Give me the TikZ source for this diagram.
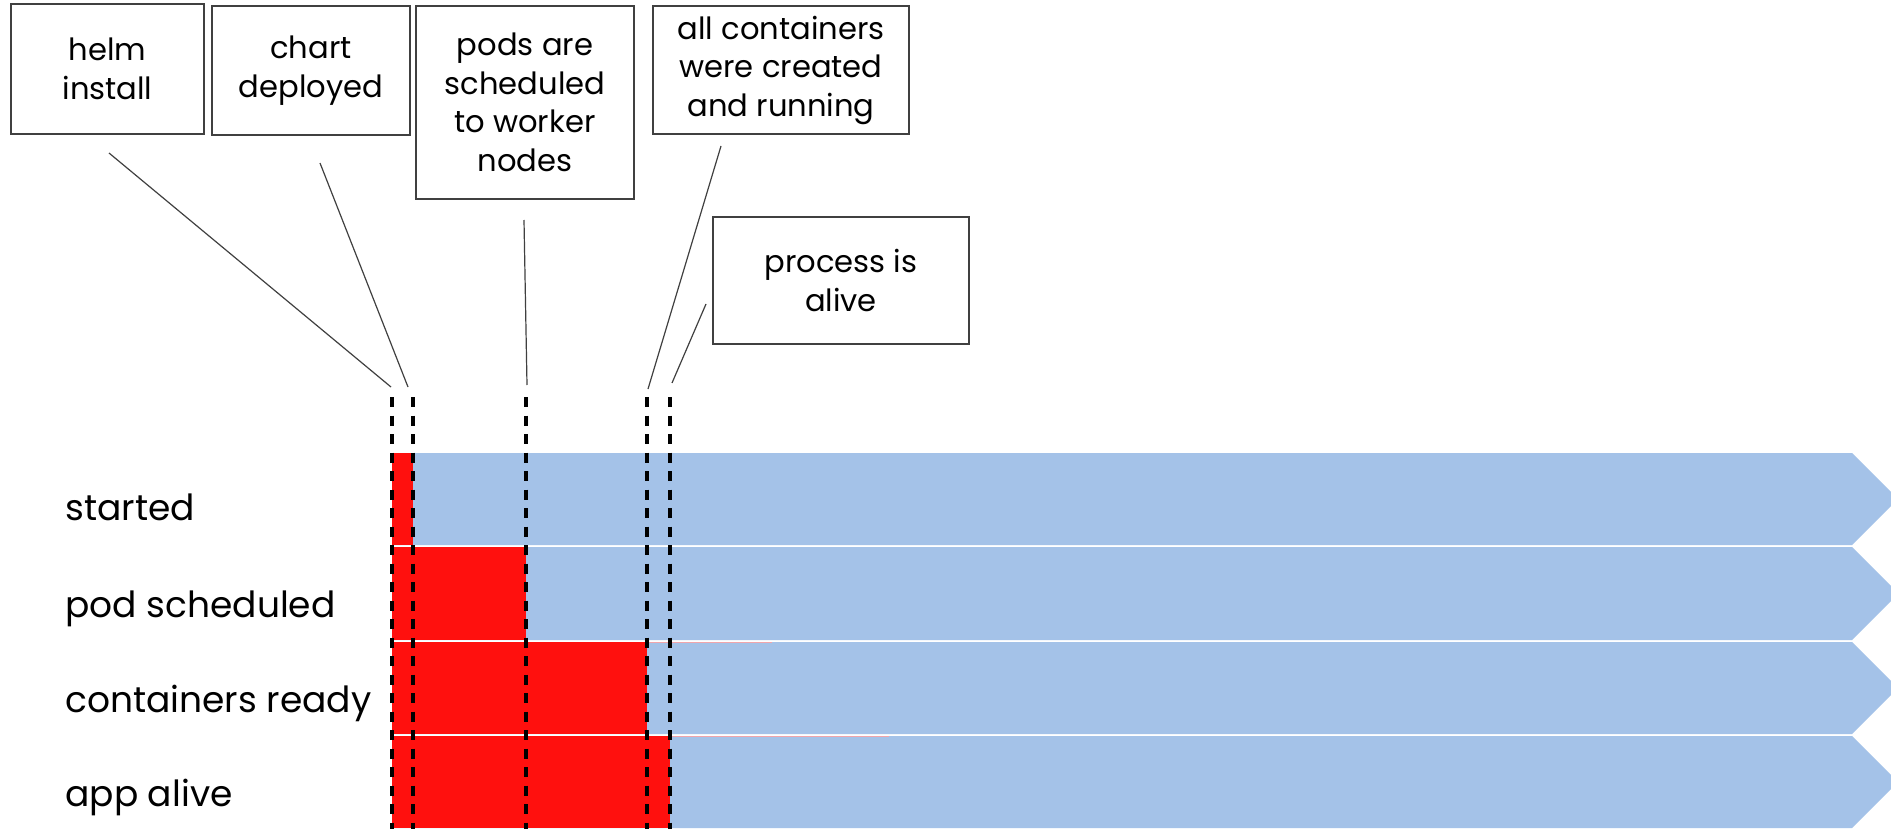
\documentclass[tikz,border=0pt]{standalone}
\usepackage{fontspec}
\setmainfont{Poppins}
\definecolor{barblue}{RGB}{164,194,232}
\definecolor{barred}{RGB}{255,16,14}
\definecolor{boxgray}{RGB}{64,64,64}
\definecolor{faintred}{RGB}{240,165,172}
\begin{document}
\begin{tikzpicture}[x=0.5pt,y=-0.5pt,
  callout/.style={draw=boxgray, line width=0.8pt, fill=white, align=center, inner sep=0pt,
    font=\fontsize{15.3pt}{19.25pt}\selectfont},
  leader/.style={draw=boxgray, line width=0.6pt},
  marker/.style={draw=black, line width=1.6pt, dash pattern=on 5pt off 4.25pt},
  rowlabel/.style={anchor=base west, inner sep=0pt, font=\fontsize{18pt}{22pt}\selectfont},
  bar/.style={fill=barblue},
  done/.style={fill=barred}]
\useasboundingbox (0,0) rectangle (1891,829);
\fill[white] (0,0) rectangle (1891,829);
% timeline rows
\begin{scope}
\clip (0,0) rectangle (1891,829);
\fill[bar] (392,453) -- (1852,453) -- (1898,499) -- (1852,545) -- (392,545) -- cycle;
\fill[bar] (392,547) -- (1852,547) -- (1898.5,593.5) -- (1852,640) -- (392,640) -- cycle;
\fill[bar] (392,642) -- (1852,642) -- (1898,688) -- (1852,734) -- (392,734) -- cycle;
\fill[bar] (392,736) -- (1852,736) -- (1898,782) -- (1852,828) -- (392,828) -- cycle;
\end{scope}
\fill[done] (392,453) rectangle (413,545);
\fill[done] (392,547) rectangle (526,640);
\fill[done] (392,642) rectangle (647,734);
\fill[done] (392,736) rectangle (670,828);
\draw[faintred, line width=0.5pt] (647,642.5) -- (772,642.5);
\draw[faintred, line width=0.5pt] (670,736.5) -- (889,736.5);
% row labels
\node[rowlabel] (lstarted) at (65,520) {started};
\node[rowlabel] (lpod) at (65,617) {pod scheduled};
\node[rowlabel] (lcont) at (65,712) {containers ready};
\node[rowlabel] (lapp) at (65,806) {app alive};
% event markers
\foreach \n/\x in {d1/392,d2/413,d3/526,d4/647,d5/670}{
  \coordinate (\n t) at (\x,397);
  \coordinate (\n b) at (\x,829);
}
\foreach \n in {d1,d2,d3,d4,d5}{
  \draw[marker] (\n t) -- (\n b);
}
% callout boxes
\node[callout, minimum width=96.5pt, minimum height=65pt] (helm) at (107.5,69) {helm\\install};
\node[callout, minimum width=99pt, minimum height=64.5pt] (chart) at (311,70.5) {chart\\deployed};
\node[callout, minimum width=109pt, minimum height=96.5pt] (pods) at (525,102.5) {pods are\\scheduled\\to worker\\nodes};
\node[callout, minimum width=128pt, minimum height=64pt] (allc) at (781,70) {all containers\\were created\\and running};
\node[callout, minimum width=128pt, minimum height=63.5pt] (proc) at (841,280.5) {process is\\alive};
% leader lines
\coordinate (helmL) at (109,153);   \coordinate (helmE) at (391,387);
\coordinate (chartL) at (320,163);  \coordinate (chartE) at (408,387);
\coordinate (podsL) at (524,220);   \coordinate (podsE) at (527,385);
\coordinate (allcL) at (721,146);   \coordinate (allcE) at (648,389);
\coordinate (procL) at (706,304);   \coordinate (procE) at (672,383);
\draw[leader] (helmL) -- (helmE);
\draw[leader] (chartL) -- (chartE);
\draw[leader] (podsL) -- (podsE);
\draw[leader] (allcL) -- (allcE);
\draw[leader] (procL) -- (procE);
\end{tikzpicture}
\end{document}
